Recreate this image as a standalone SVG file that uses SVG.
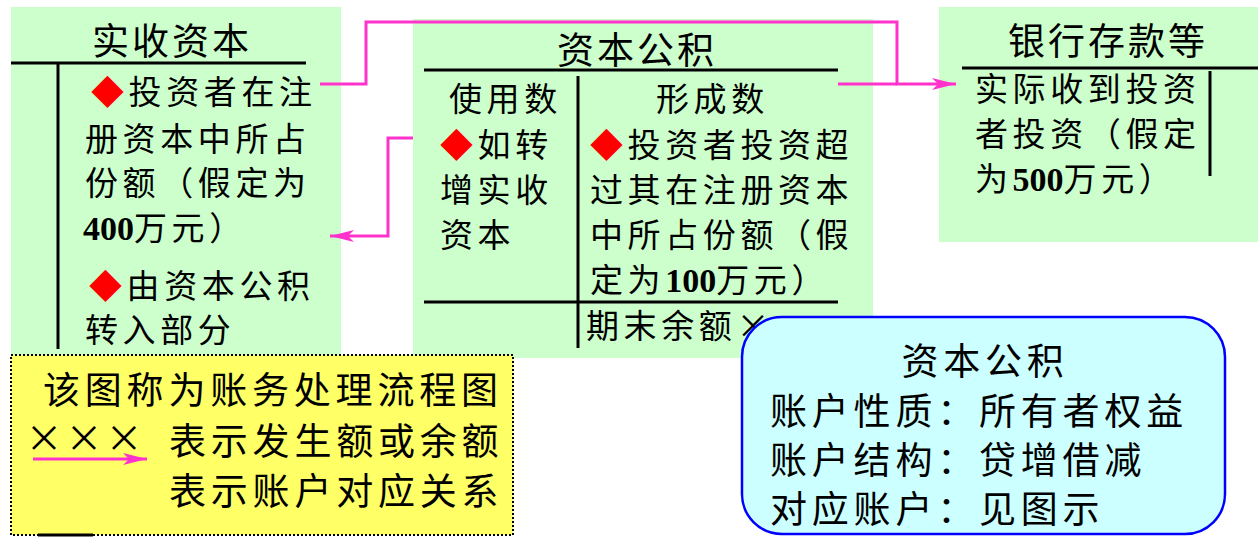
<svg xmlns="http://www.w3.org/2000/svg" width="1258" height="558" viewBox="0 0 1258 558">
<style>
.panel{fill:#CCFFCC;stroke:none}
.rule{stroke:#000;stroke-width:3;fill:none}
.t{font-family:"Noto Sans CJK SC","Liberation Serif",serif;font-size:33px;letter-spacing:4.6px;fill:#000}
.tt{font-family:"Noto Sans CJK SC","Liberation Serif",serif;font-size:37px;letter-spacing:3px;fill:#000}
.big{font-family:"Noto Sans CJK SC","Liberation Serif",serif;font-size:37px;letter-spacing:4.8px;fill:#000}
.num{font-family:"Liberation Serif",serif;font-weight:bold;letter-spacing:0;font-size:34px}
.dia{fill:#FF0000}
.conn{stroke:#FF33CC;stroke-width:3;fill:none}
</style>
<defs>
<marker id="ah" markerUnits="userSpaceOnUse" markerWidth="26" markerHeight="14" refX="24" refY="7" orient="auto">
<path d="M0,1 L24,7 L0,13 L6,7 Z" fill="#FF33CC"/>
</marker>
</defs>

<g id="shishouziben">
<rect class="panel" x="11" y="7" width="330" height="350"/>
<text class="tt" x="92" y="55">实收资本</text>
<line class="rule" x1="11" y1="63" x2="306" y2="63"/>
<line class="rule" x1="58" y1="64" x2="58" y2="349"/>
<text class="t" x="91" y="104"><tspan class="dia">◆</tspan>投资者在注</text>
<text class="t" x="85" y="151">册资本中所占</text>
<text class="t" x="85" y="195">份额（假定为</text>
<text class="t" x="83" y="240"><tspan class="num">400</tspan>万元）</text>
<text class="t" x="89" y="298"><tspan class="dia">◆</tspan>由资本公积</text>
<text class="t" x="85" y="342">转入部分</text>
</g>

<g id="zibengongji">
<rect class="panel" x="413" y="19" width="460" height="339"/>
<text class="tt" x="557" y="64">资本公积</text>
<line class="rule" x1="424" y1="70" x2="838" y2="70"/>
<line class="rule" x1="578" y1="76" x2="578" y2="348"/>
<line class="rule" x1="424" y1="302" x2="838" y2="302"/>
<text class="t" x="449" y="111">使用数</text>
<text class="t" x="656" y="111">形成数</text>
<text class="t" x="440" y="157"><tspan class="dia">◆</tspan>如转</text>
<text class="t" x="440" y="202">增实收</text>
<text class="t" x="440" y="247">资本</text>
<text class="t" x="590" y="157"><tspan class="dia">◆</tspan>投资者投资超</text>
<text class="t" x="590" y="202">过其在注册资本</text>
<text class="t" x="590" y="247">中所占份额（假</text>
<text class="t" x="590" y="292">定为<tspan class="num">100</tspan>万元）</text>
<text class="t" x="586" y="338">期末余额×</text>
</g>

<g id="yinhangcunkuan">
<rect class="panel" x="939" y="7" width="319" height="235"/>
<text class="tt" x="1008" y="55">银行存款等</text>
<line class="rule" x1="962" y1="68" x2="1258" y2="68"/>
<line class="rule" x1="1210" y1="71" x2="1210" y2="176"/>
<text class="t" x="975" y="101">实际收到投资</text>
<text class="t" x="975" y="146">者投资（假定</text>
<text class="t" x="975" y="191">为<tspan class="num">500</tspan>万元）</text>
</g>

<g id="connectors">
<polyline class="conn" points="320,84 366,84 366,22 897,22 897,84 956,84" marker-end="url(#ah)"/>
<line class="conn" x1="838" y1="84" x2="897" y2="84"/>
<polyline class="conn" points="413,138 388,138 388,236 330,236" marker-end="url(#ah)"/>
</g>

<g id="legend">
<rect x="11" y="355" width="502" height="180" fill="#FFFF66" stroke="#000" stroke-width="2" stroke-dasharray="2,2"/>
<line x1="38" y1="535" x2="93" y2="535" stroke="#000" stroke-width="3"/>
<text class="big" x="43" y="404">该图称为账务处理流程图</text>
<text class="big" x="44 84 124" y="452" text-anchor="middle" style="letter-spacing:0">×××</text>
<text class="big" x="169" y="455">表示发生额或余额</text>
<line class="conn" x1="33" y1="459" x2="147" y2="459" marker-end="url(#ah)"/>
<text class="big" x="169" y="505">表示账户对应关系</text>
</g>

<g id="info">
<rect x="742" y="317" width="483" height="217" rx="40" ry="40" fill="#CCFFFF" stroke="#0000FF" stroke-width="2.5"/>
<text class="big" x="985" y="375" text-anchor="middle">资本公积</text>
<text class="big" x="770" y="425">账户性质：所有者权益</text>
<text class="big" x="770" y="474">账户结构：贷增借减</text>
<text class="big" x="770" y="523">对应账户：见图示</text>
</g>
</svg>
